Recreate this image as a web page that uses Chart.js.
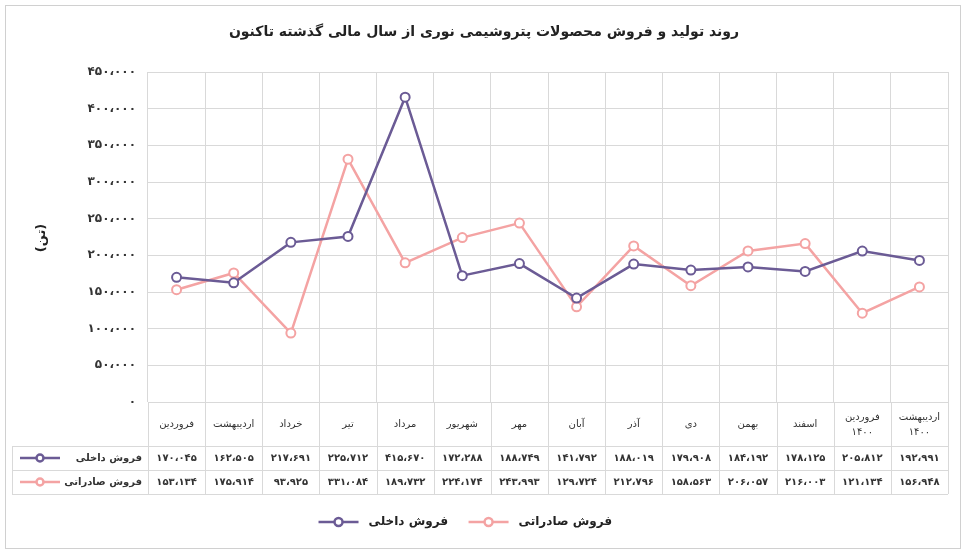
<!DOCTYPE html>
<html>
<head>
<meta charset="utf-8">
<script src="https://cdn.jsdelivr.net/npm/chart.js@4.4.0/dist/chart.umd.min.js"></script>
<style>
  body { margin: 0; background: #fff; }
  #wrap { width: 969px; height: 554px; }
</style>
</head>
<body>
<div id="wrap"><canvas id="c"></canvas></div>
<script>
const months = ['فروردین', 'اردیبهشت', 'خرداد', 'تیر', 'مرداد', 'شهریور', 'مهر', 'آبان', 'آذر', 'دی', 'بهمن', 'اسفند', ['فروردین', '۱۴۰۰'], ['اردیبهشت', '۱۴۰۰']];
const domestic = [170045, 162505, 217691, 225712, 415670, 172288, 188749, 141792, 188019, 179908, 184192, 178125, 205812, 192991];
const exports_ = [153134, 175914, 93925, 331084, 189732, 224174, 243993, 129724, 212796, 158563, 206057, 216003, 121134, 156948];
const seriesNames = ['فروش داخلی', 'فروش صادراتی'];
const colors = ['#6b5b95', '#f4a3a3'];
const titleText = 'روند تولید و فروش محصولات پتروشیمی نوری از سال مالی گذشته تاکنون';
const FONT = '"DejaVu Sans", sans-serif';

function fa(n) {
  const s = Math.round(n).toString().replace(/\B(?=(\d{3})+(?!\d))/g, '،');
  return s.replace(/\d/g, d => '۰۱۲۳۴۵۶۷۸۹'[d]);
}

const tablePlugin = {
  id: 'table',
  afterDraw(chart) {
    const ctx = chart.ctx, a = chart.chartArea, x = chart.scales.x;
    const step = (a.right - a.left) / months.length;
    ctx.save();
    ctx.strokeStyle = '#d0d0d0';
    ctx.lineWidth = 1;
    ctx.strokeRect(5.5, 5.5, 955, 543);
    // table grid
    const rows = [a.bottom, a.bottom + 44, a.bottom + 68, a.bottom + 92];
    ctx.strokeStyle = '#d9d9d9';
    ctx.beginPath();
    rows.forEach((y, i) => { ctx.moveTo(i === 0 ? a.left : 12, y + 0.5); ctx.lineTo(a.right, y + 0.5); });
    for (let i = 0; i <= months.length; i++) {
      const xx = Math.round(a.left + i * step) + 0.5;
      ctx.moveTo(xx, rows[0]); ctx.lineTo(xx, rows[3]);
    }
    ctx.moveTo(12.5, rows[1]); ctx.lineTo(12.5, rows[3]);
    ctx.stroke();
    ctx.fillStyle = '#333';
    ctx.textAlign = 'center';
    ctx.textBaseline = 'middle';
    ctx.font = '10px ' + FONT;
    months.forEach((m, i) => {
      const cx = x.getPixelForValue(i);
      if (Array.isArray(m)) {
        ctx.fillText(m[0], cx, rows[0] + 15);
        ctx.fillText(m[1], cx, rows[0] + 30);
      } else ctx.fillText(m, cx, rows[0] + 22);
      ctx.font = 'bold 10px ' + FONT;
      ctx.fillText(fa(domestic[i]), cx, rows[1] + 12);
      ctx.fillText(fa(exports_[i]), cx, rows[2] + 12);
      ctx.font = '10px ' + FONT;
    });
    // row headers
    [domestic, exports_].forEach((_, k) => {
      const y = rows[1 + k] + 12;
      ctx.font = 'bold 10px ' + FONT;
      ctx.textAlign = 'right';
      ctx.fillText(seriesNames[k], a.left - 6, y);
      ctx.strokeStyle = colors[k]; ctx.lineWidth = 2.5;
      ctx.beginPath(); ctx.moveTo(20, y); ctx.lineTo(60, y); ctx.stroke();
      ctx.fillStyle = '#fff'; ctx.beginPath(); ctx.arc(40, y, 3.5, 0, Math.PI * 2); ctx.fill(); ctx.stroke();
      ctx.fillStyle = '#333';
    });
    // legend
    const ly = 522;
    ctx.font = 'bold 12px ' + FONT;
    [[1, 612], [0, 448]].forEach(([k, tx]) => {
      ctx.textAlign = 'right';
      ctx.fillStyle = '#222';
      ctx.fillText(seriesNames[k], tx, ly);
      const w = ctx.measureText(seriesNames[k]).width;
      const lx = tx - w - 50;
      ctx.strokeStyle = colors[k]; ctx.lineWidth = 2.5;
      ctx.beginPath(); ctx.moveTo(lx, ly); ctx.lineTo(lx + 40, ly); ctx.stroke();
      ctx.fillStyle = '#fff'; ctx.beginPath(); ctx.arc(lx + 20, ly, 4, 0, Math.PI * 2); ctx.fill(); ctx.stroke();
    });
    // title
    ctx.fillStyle = '#222';
    ctx.textAlign = 'center';
    ctx.font = 'bold 14px ' + FONT;
    ctx.fillText(titleText, 484, 32);
    // y title
    ctx.translate(42, 238);
    ctx.rotate(-Math.PI / 2);
    ctx.font = 'bold 13px ' + FONT;
    ctx.fillText('(تن)', 0, 0);
    ctx.restore();
  }
};

new Chart(document.getElementById('c'), {
  type: 'line',
  data: {
    labels: months.map(m => Array.isArray(m) ? m.join(' ') : m),
    datasets: [domestic, exports_].map((d, k) => ({
      label: seriesNames[k],
      data: d,
      borderColor: colors[k],
      backgroundColor: '#fff',
      borderWidth: 2.5,
      pointRadius: 4.5,
      pointBorderWidth: 2,
      pointBackgroundColor: '#fff',
      tension: 0
    }))
  },
  options: {
    responsive: true,
    maintainAspectRatio: false,
    animation: false,
    layout: { padding: { top: 72, bottom: 152, left: 0, right: 21 } },
    plugins: { legend: { display: false }, tooltip: { enabled: false } },
    scales: {
      x: {
        offset: true,
        grid: { offset: true, color: '#d9d9d9', drawTicks: false },
        border: { display: false },
        ticks: { display: false }
      },
      y: {
        min: 0, max: 450000,
        afterFit(s) { s.width = 148; },
        grid: { color: '#d9d9d9', drawTicks: false },
        border: { display: false },
        ticks: {
          stepSize: 50000, padding: 12,
          color: '#333',
          font: { family: FONT, size: 12, weight: 'bold' },
          callback: v => v === 0 ? '۰' : fa(v)
        }
      }
    }
  },
  plugins: [tablePlugin]
});
</script>
</body>
</html>
